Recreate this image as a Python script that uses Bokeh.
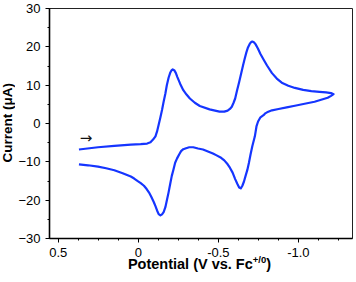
from bokeh.plotting import figure
from bokeh.models import FixedTicker, Label, Range1d, Div
from bokeh.layouts import row, column
from bokeh.embed import file_html
from bokeh.resources import INLINE

# Cyclic voltammogram (V vs. Fc+/0, µA)
potential = [0.371, 0.252, 0.150, 0.047, -0.015, -0.055, -0.076, -0.092, -0.107, -0.117,
             -0.127, -0.138, -0.148, -0.158, -0.169, -0.178, -0.189, -0.199, -0.207, -0.215,
             -0.224, -0.234, -0.244, -0.261, -0.281, -0.301, -0.322, -0.353, -0.384, -0.445,
             -0.507, -0.537, -0.558, -0.572, -0.584, -0.595, -0.605, -0.617, -0.630, -0.642,
             -0.654, -0.664, -0.675, -0.685, -0.695, -0.704, -0.712, -0.722, -0.732, -0.747,
             -0.763, -0.784, -0.804, -0.835, -0.865, -0.896, -0.937, -0.978, -1.030, -1.081,
             -1.132, -1.173, -1.204, -1.220,
             -1.204, -1.183, -1.142, -1.101, -1.039, -0.978, -0.927, -0.876, -0.835, -0.804,
             -0.793, -0.784, -0.763, -0.748, -0.738, -0.728, -0.712, -0.701, -0.691, -0.681,
             -0.670, -0.660, -0.650, -0.640, -0.630, -0.619, -0.605, -0.589, -0.572, -0.558,
             -0.537, -0.517, -0.486, -0.466, -0.435, -0.404, -0.373, -0.343, -0.318, -0.298,
             -0.281, -0.267, -0.255, -0.242, -0.230, -0.220, -0.209, -0.199, -0.189, -0.178,
             -0.169, -0.158, -0.148, -0.138, -0.127, -0.117, -0.107, -0.097, -0.080, -0.066,
             -0.052, -0.035, -0.015, 0.006, 0.026, 0.047, 0.098, 0.150, 0.201, 0.252,
             0.314, 0.371]
current = [-6.78, -6.19, -5.85, -5.49, -5.40, -5.23, -4.90, -4.20, -3.35, -2.06,
           -0.34, 1.62, 3.53, 5.67, 7.81, 9.97, 11.93, 13.22, 13.84, 14.10,
           13.92, 13.22, 12.11, 10.39, 8.69, 7.55, 6.52, 5.41, 4.56, 3.69,
           3.09, 3.09, 3.35, 3.79, 4.38, 5.41, 6.52, 8.69, 10.82, 12.96,
           15.13, 16.83, 18.56, 19.85, 20.70, 21.21, 21.39, 21.21, 20.70, 19.58,
           18.12, 16.57, 15.13, 13.14, 11.73, 10.64, 9.87, 9.28, 8.76, 8.43,
           8.25, 8.12, 7.94, 7.65,
           7.22, 6.70, 6.19, 5.67, 5.15, 4.64, 4.20, 3.79, 3.43, 2.91,
           2.65, 2.24, 1.62, 0.52, -0.77, -3.35, -5.93, -8.07, -10.23, -12.11,
           -13.66, -15.13, -16.24, -16.93, -16.68, -15.80, -14.51, -12.81, -11.52, -10.64,
           -9.61, -8.94, -8.25, -7.81, -7.29, -6.78, -6.52, -6.19, -6.19, -6.44,
           -6.70, -7.22, -8.07, -9.10, -10.23, -11.93, -13.66, -15.80, -17.96, -20.10,
           -21.83, -23.12, -23.71, -23.97, -23.63, -22.68, -21.57, -20.54, -19.07, -17.96,
           -17.09, -16.24, -15.54, -14.95, -14.36, -13.84, -12.96, -12.19, -11.68, -11.26,
           -10.90, -10.64]

x_ticks = [0.5, 0.0, -0.5, -1.0]
x_tick_labels = ["0.5", "0", "-0.5", "-1.0"]
x_minor = [0.5, 0.375, 0.25, 0.125, 0.0, -0.125, -0.25, -0.375, -0.5, -0.625,
           -0.75, -0.875, -1.0, -1.125, -1.25]
y_ticks = [-30, -20, -10, 0, 10, 20, 30]
y_minor = [-30, -25, -20, -15, -10, -5, 0, 5, 10, 15, 20, 25, 30]

x_title = "Potential (V vs. Fc"
x_title_sup = "+/0"
y_title = "Current (\u03bcA)"
arrow_text = "\u2192"

FONT = "Liberation Sans"
BLUE = "#1535ff"

PLOT_W, PLOT_H = 339, 263

p = figure(width=PLOT_W, height=PLOT_H, output_backend="svg", toolbar_location=None,
           title=None, margin=0,
           x_range=Range1d(0.555, -1.338), y_range=Range1d(-30, 30),
           min_border_left=29, min_border_right=2, min_border_top=8,
           min_border_bottom=25)

p.line(potential, current, line_color=BLUE, line_width=2.2, line_join="round")

p.xgrid.visible = False
p.ygrid.visible = False
p.outline_line_color = "#222222"
p.outline_line_width = 1
p.background_fill_color = "white"
p.border_fill_color = "white"

p.xaxis.ticker = FixedTicker(ticks=x_ticks, minor_ticks=x_minor)
p.xaxis.major_label_overrides = {t: l for t, l in zip(x_ticks, x_tick_labels)}
p.yaxis.ticker = FixedTicker(ticks=y_ticks, minor_ticks=y_minor)

for ax in (p.xaxis[0], p.yaxis[0]):
    ax.axis_line_color = "black"
    ax.axis_line_width = 1.6
    ax.major_tick_line_color = "black"
    ax.minor_tick_line_color = "black"
    ax.major_tick_line_width = 1
    ax.minor_tick_line_width = 1
    ax.major_tick_out = 4
    ax.major_tick_in = 0
    ax.minor_tick_out = 2
    ax.minor_tick_in = 0
    ax.major_label_text_font = FONT
    ax.major_label_text_font_size = "13px"
    ax.major_label_text_color = "black"
    ax.axis_label_standoff = 0
p.xaxis.major_label_standoff = 5
p.yaxis.major_label_standoff = 5

p.add_layout(Label(x=0.366, y=-3.9, text=arrow_text, text_align="left",
                   text_baseline="alphabetic", text_font="DejaVu Sans",
                   text_font_size="15px", text_color="#111111"))

ydiv = Div(width=15, height=PLOT_H, margin=0, text=(
    '<div style="width:15px;height:263px;box-sizing:border-box;padding-bottom:17px;'
    'display:flex;align-items:center;justify-content:center;">'
    '<span style="writing-mode:vertical-rl;transform:rotate(180deg);'
    "font-family:'Liberation Sans';font-weight:bold;font-size:13.5px;"
    'line-height:14px;white-space:nowrap;color:black;">'
    + y_title + '</span></div>'))

xdiv = Div(width=PLOT_W, height=17, margin=0, text=(
    '<div style="position:relative;top:-6px;box-sizing:border-box;width:339px;'
    'padding-left:30px;text-align:center;font-family:\'Liberation Sans\';'
    'font-weight:bold;font-size:14.5px;line-height:14px;white-space:nowrap;color:black;">'
    + x_title + '<sup style="font-size:9.5px;line-height:0;">' + x_title_sup
    + '</sup>)</div>'))

layout = row(ydiv, column(p, xdiv, spacing=0, margin=0), spacing=0, margin=0)

open("out.html", "w").write(file_html(layout, INLINE))
